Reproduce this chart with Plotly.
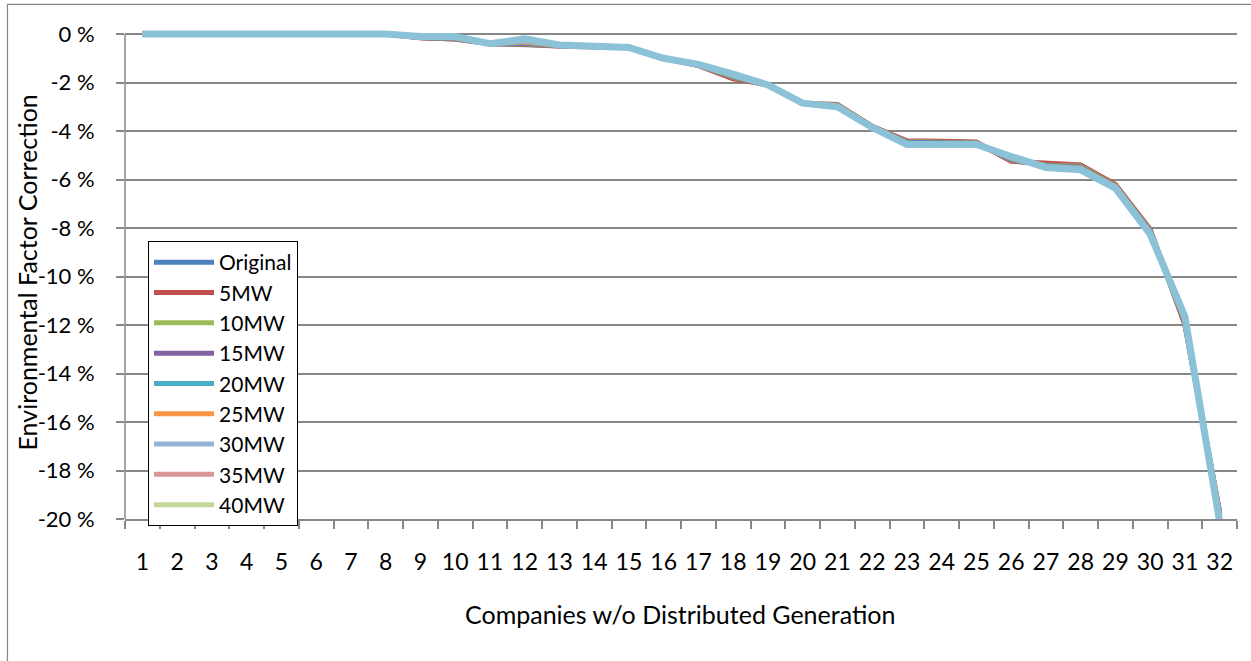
import plotly.graph_objects as go

categories = [str(i) for i in range(1, 33)]

series_names = ["Original", "5MW", "10MW", "15MW", "20MW", "25MW", "30MW", "35MW", "40MW", "45MW"]
series_colors = ["#4F81BD", "#C0504D", "#9BBB59", "#8064A2", "#4BACC6", "#F79646",
                 "#95B3D7", "#D99694", "#C3D69B", "#8CC2D7"]
series_in_legend = [True, True, True, True, True, True, True, True, True, False]

y_tick_values = [0, -2, -4, -6, -8, -10, -12, -14, -16, -18, -20]
y_tick_labels = ["0 %", "-2 %", "-4 %", "-6 %", "-8 %", "-10 %", "-12 %", "-14 %",
                 "-16 %", "-18 %", "-20 %"]

original = [0, 0, 0, 0, 0, 0, 0, 0, -0.15, -0.20, -0.40, -0.45, -0.50, -0.52, -0.55, -1.00,
            -1.28, -1.80, -2.10, -2.85, -2.95, -3.82, -4.42, -4.45, -4.48, -5.22, -5.38,
            -5.42, -6.22, -8.08, -11.95, -19.75]
mw5 = [0, 0, 0, 0, 0, 0, 0, 0, -0.15, -0.20, -0.40, -0.42, -0.50, -0.52, -0.55, -1.00,
       -1.30, -1.85, -2.10, -2.85, -2.90, -3.80, -4.40, -4.42, -4.45, -5.25, -5.35,
       -5.40, -6.20, -8.05, -12.00, -19.70]
mw10 = [0, 0, 0, 0, 0, 0, 0, 0, -0.14, -0.18, -0.40, -0.40, -0.48, -0.52, -0.55, -1.00,
        -1.28, -1.78, -2.10, -2.85, -2.92, -3.82, -4.44, -4.46, -4.48, -5.20, -5.40,
        -5.45, -6.25, -8.10, -11.90, -19.80]
mw15 = [0, 0, 0, 0, 0, 0, 0, 0, -0.14, -0.17, -0.40, -0.38, -0.48, -0.52, -0.55, -1.00,
        -1.27, -1.76, -2.10, -2.85, -2.94, -3.83, -4.46, -4.48, -4.50, -5.18, -5.42,
        -5.48, -6.28, -8.12, -11.85, -19.85]
mw20 = [0, 0, 0, 0, 0, 0, 0, 0, -0.13, -0.16, -0.40, -0.35, -0.47, -0.51, -0.55, -1.00,
        -1.27, -1.74, -2.10, -2.85, -2.95, -3.84, -4.48, -4.50, -4.51, -5.15, -5.44,
        -5.50, -6.30, -8.15, -11.80, -19.90]
mw25 = [0, 0, 0, 0, 0, 0, 0, 0, -0.13, -0.15, -0.40, -0.32, -0.47, -0.51, -0.55, -1.00,
        -1.26, -1.72, -2.10, -2.85, -2.96, -3.84, -4.50, -4.52, -4.52, -5.12, -5.46,
        -5.53, -6.31, -8.17, -11.76, -19.95]
mw30 = [0, 0, 0, 0, 0, 0, 0, 0, -0.12, -0.14, -0.40, -0.29, -0.46, -0.50, -0.55, -1.00,
        -1.26, -1.70, -2.10, -2.85, -2.97, -3.85, -4.51, -4.53, -4.53, -5.10, -5.47,
        -5.55, -6.32, -8.19, -11.73, -20.00]
mw35 = [0, 0, 0, 0, 0, 0, 0, 0, -0.11, -0.12, -0.40, -0.26, -0.46, -0.50, -0.55, -1.00,
        -1.25, -1.68, -2.10, -2.85, -2.98, -3.85, -4.52, -4.54, -4.54, -5.08, -5.48,
        -5.57, -6.33, -8.21, -11.70, -20.05]
mw40 = [0, 0, 0, 0, 0, 0, 0, 0, -0.11, -0.11, -0.40, -0.23, -0.45, -0.50, -0.55, -1.00,
        -1.25, -1.66, -2.10, -2.85, -2.99, -3.85, -4.54, -4.55, -4.55, -5.06, -5.49,
        -5.58, -6.34, -8.23, -11.68, -20.08]
mw45 = [0, 0, 0, 0, 0, 0, 0, 0, -0.10, -0.10, -0.40, -0.20, -0.45, -0.50, -0.55, -1.00,
        -1.25, -1.65, -2.10, -2.85, -3.00, -3.85, -4.55, -4.55, -4.55, -5.05, -5.50,
        -5.60, -6.35, -8.25, -11.65, -20.10]

series_values = [original, mw5, mw10, mw15, mw20, mw25, mw30, mw35, mw40, mw45]

FONT = "Lato"
GRID = "#878787"

fig = go.Figure()
for name, color, vals, inleg in zip(series_names, series_colors, series_values, series_in_legend):
    fig.add_trace(go.Scatter(
        x=categories, y=vals, name=name, mode="lines",
        line=dict(color=color, width=5 if inleg else 7),
        showlegend=inleg,
    ))

fig.update_layout(
    width=1251, height=661,
    margin=dict(l=125, r=14, t=28, b=142),
    paper_bgcolor="white", plot_bgcolor="white",
    font=dict(family=FONT, size=24, color="#000000"),
    showlegend=True,
    legend=dict(
        x=0.0207, y=0.566, xanchor="left", yanchor="top",
        bgcolor="white", bordercolor="#000000", borderwidth=1,
        font=dict(family=FONT, size=21, color="#000000"),
        itemwidth=60, tracegroupgap=0,
    ),
    xaxis=dict(
        type="category", categoryorder="array", categoryarray=categories,
        range=[-0.5, 31.5],
        showgrid=False, showline=True, linecolor=GRID, linewidth=1.5,
        ticks="outside", tickson="boundaries", ticklen=8, tickcolor=GRID, tickwidth=1.5,
        tickfont=dict(family=FONT, size=23, color="#000000"),
        tickangle=0,
        ticklabelstandoff=22,
        zeroline=False,
    ),
    yaxis=dict(
        range=[-20, 0.25],
        tickmode="array", tickvals=y_tick_values, ticktext=y_tick_labels,
        showgrid=True, gridcolor=GRID, gridwidth=1.5,
        showline=False, zeroline=False,
        ticks="outside", ticklen=8, tickcolor=GRID, tickwidth=1.5,
        ticklabelstandoff=17,
        tickfont=dict(family=FONT, size=22, color="#000000"),
    ),
    shapes=[
        dict(type="line", xref="paper", yref="y", x0=0, x1=0, y0=-20, y1=0,
             line=dict(color=GRID, width=1.5), layer="above"),
        dict(type="rect", xref="paper", yref="paper", x0=-0.1057, x1=1.1, y0=-0.5, y1=1.0479,
             line=dict(color="#888888", width=1.25), fillcolor="rgba(0,0,0,0)", layer="below"),
    ],
    annotations=[
        dict(text="Environmental Factor Correction", xref="paper", yref="paper",
             x=-0.0890, y=0.502, xanchor="center", yanchor="middle", textangle=-90,
             showarrow=False, font=dict(family=FONT, size=25, color="#000000")),
        dict(text="Companies w/o Distributed Generation", xref="paper", yref="paper",
             x=0.499, y=-0.1935, xanchor="center", yanchor="middle",
             showarrow=False, font=dict(family=FONT, size=25, color="#000000")),
    ],
)

fig.write_html("out.html")
